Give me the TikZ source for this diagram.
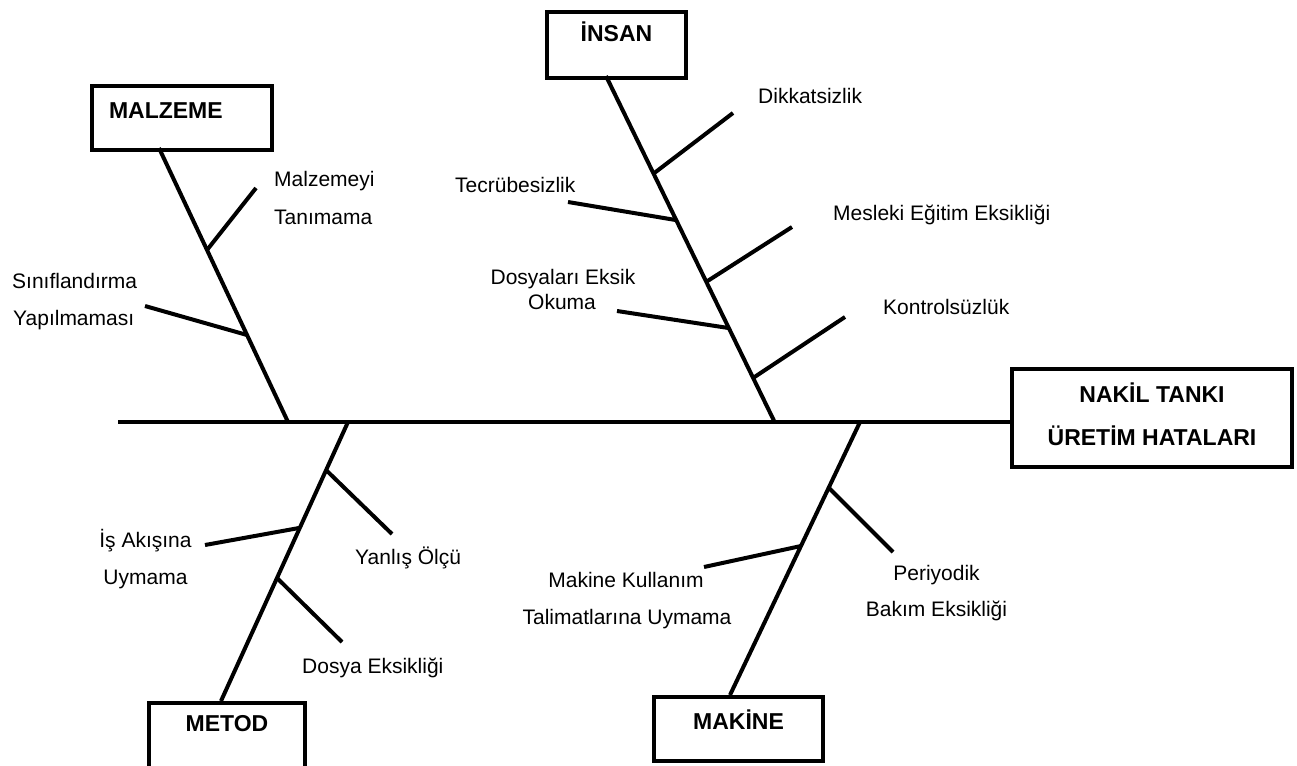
\documentclass[tikz,border=0pt]{standalone}
\usepackage{fontspec}
\setmainfont{Liberation Sans}
\usetikzlibrary{calc}
\begin{document}
\begin{tikzpicture}[x=1pt,y=-1pt,
  bone/.style={line width=4pt},
  catbox/.style={draw, line width=4pt, inner sep=0pt, font=\fontsize{23}{43}\selectfont\bfseries},
  cause/.style={inner sep=0pt, font=\fontsize{21}{25}\selectfont}
]
\useasboundingbox (0,0) rectangle (1297,765);
\clip (0,0) rectangle (1297,765);

% effect box and category boxes
\node[catbox, anchor=north west, minimum width=280pt, text height=33pt, text depth=65pt]
  (eff) at (1010,367) {\begin{tabular}[t]{@{}c@{}}NAKİL TANKI\\ÜRETİM HATALARI\end{tabular}};
\node[catbox, anchor=north west, minimum width=139pt, text height=30pt, text depth=36pt]
  (insan) at (545,10) {İNSAN};
\node[catbox, anchor=north west, inner xsep=17pt, text width=146pt, align=left, text height=33pt, text depth=31pt]
  (malz) at (90,84) {MALZEME};
\node[catbox, anchor=north west, minimum width=156pt, text height=28.5pt, text depth=54pt]
  (metod) at (147,701) {METOD};
\node[catbox, anchor=north west, minimum width=169pt, text height=32pt, text depth=32pt]
  (makine) at (652,695) {MAKİNE};

% spine
\coordinate (tail) at (118,422);
\draw[bone] (tail) -- (tail -| eff.west);

% main bones
\coordinate (mz0) at (159,148);  \coordinate (mz1) at (288,422);
\coordinate (in0) at (606,76);   \coordinate (in1) at (774.6,422);
\coordinate (me0) at (348,422);  \coordinate (me1) at (221,701);
\coordinate (mk0) at (860,422);  \coordinate (mk1) at (730,695);
\draw[bone] (mz0) -- (mz1);
\draw[bone] (in0) -- (in1);
\draw[bone] (me0) -- (me1);
\draw[bone] (mk0) -- (mk1);

% MALZEME causes
\coordinate (a1) at (207,250); \coordinate (a1e) at (256,188);
\coordinate (a2) at (247,335); \coordinate (a2e) at (145,306);
\draw[bone] (a1) -- (a1e);
\draw[bone] (a2) -- (a2e);
\node[cause, anchor=base west] (t1) at (274,186) {Malzemeyi};
\node[cause, anchor=base west] (t2) at (274,224) {Tanımama};
\node[cause, anchor=base west] (t3) at (12,288) {Sınıflandırma};
\node[cause, anchor=base west] (t4) at (13,325) {Yapılmaması};

% İNSAN causes
\coordinate (b1) at (653,174);   \coordinate (b1e) at (733,113);
\coordinate (b2) at (675.6,220); \coordinate (b2e) at (568,202);
\coordinate (b3) at (706,282);   \coordinate (b3e) at (792,227);
\coordinate (b4) at (728.5,328); \coordinate (b4e) at (617,311);
\coordinate (b5) at (753,378);   \coordinate (b5e) at (845,317);
\draw[bone] (b1) -- (b1e);
\draw[bone] (b2) -- (b2e);
\draw[bone] (b3) -- (b3e);
\draw[bone] (b4) -- (b4e);
\draw[bone] (b5) -- (b5e);
\node[cause, anchor=base west] (u1) at (758,103) {Dikkatsizlik};
\node[cause, anchor=base west] (u2) at (455,192) {Tecrübesizlik};
\node[cause, anchor=base west] (u3) at (833,220) {Mesleki Eğitim Eksikliği};
\node[cause, anchor=base] (u4) at (563,284) {Dosyaları Eksik};
\node[cause, anchor=base] (u5) at (562,309) {Okuma};
\node[cause, anchor=base west] (u6) at (883,314) {Kontrolsüzlük};

% METOD causes
\coordinate (c1) at (299,528); \coordinate (c1e) at (205,545);
\coordinate (c2) at (326,470); \coordinate (c2e) at (392,534);
\coordinate (c3) at (277,578); \coordinate (c3e) at (342,642);
\draw[bone] (c1) -- (c1e);
\draw[bone] (c2) -- (c2e);
\draw[bone] (c3) -- (c3e);
\node[cause, anchor=base] (v1) at (145.5,547) {İş Akışına};
\node[cause, anchor=base] (v2) at (145.5,584) {Uymama};
\node[cause, anchor=base west] (v3) at (355,564) {Yanlış Ölçü};
\node[cause, anchor=base west] (v4) at (302,673) {Dosya Eksikliği};

% MAKİNE causes
\coordinate (d1) at (801,546); \coordinate (d1e) at (704,567);
\coordinate (d2) at (829,488); \coordinate (d2e) at (893,552);
\draw[bone] (d1) -- (d1e);
\draw[bone] (d2) -- (d2e);
\node[cause, anchor=base] (w1) at (626,587) {Makine Kullanım};
\node[cause, anchor=base] (w2) at (627,624) {Talimatlarına Uymama};
\node[cause, anchor=base] (w3) at (936.5,580) {Periyodik};
\node[cause, anchor=base] (w4) at (936.5,616) {Bakım Eksikliği};
\end{tikzpicture}
\end{document}
